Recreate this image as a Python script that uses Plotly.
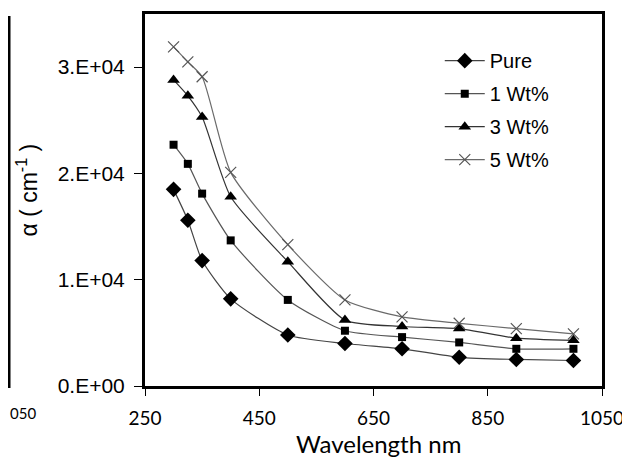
import plotly.graph_objects as go

wavelength = [300, 325, 350, 400, 500, 600, 700, 800, 900, 1000]
pure = [18500, 15600, 11800, 8200, 4800, 4000, 3500, 2700, 2500, 2400]
wt1 = [22700, 20900, 18100, 13700, 8100, 5200, 4600, 4100, 3500, 3500]
wt3 = [28800, 27300, 25300, 17800, 11700, 6200, 5600, 5400, 4500, 4300]
wt5 = [31900, 30500, 29100, 20100, 13300, 8100, 6500, 5900, 5400, 4900]

series_names = ["Pure", "1 Wt%", "3 Wt%", "5 Wt%"]
y_tickvals = [0, 10000, 20000, 30000]
y_ticktext = ["0.E+00", "1.E+04", "2.E+04", "3.E+04"]
x_tickvals = [250, 450, 650, 850, 1050]

# The page body adds an 8px margin, so the figure is 8px smaller
W, H = 622, 451
ML, MR, MT, MB = 137, 28, 3, 73
PW, PH = W - ML - MR, H - MT - MB


def px_x(px):
    return (px - ML) / PW


def px_y(py):
    return (H - MB - py) / PH


fig = go.Figure()
styles = [
    (pure, "diamond", 12, "#000000", "#444444"),
    (wt1, "square", 8, "#000000", "#555555"),
    (wt3, "triangle-up", 11, "#000000", "#333333"),
    (wt5, "x-thin", 11, "#555555", "#6a6a6a"),
]
for i, (name, (vals, sym, sz, mcol, lcol)) in enumerate(zip(series_names, styles)):
    marker = dict(symbol=sym, size=sz, color=mcol)
    if sym == "x-thin":
        marker["line"] = dict(color=mcol, width=1.2)
    fig.add_trace(go.Scatter(
        x=wavelength, y=vals, name=name, mode="lines+markers",
        legendgroup=f"g{i}",
        line=dict(color=lcol, width=1.2, shape="spline", smoothing=0.6),
        marker=marker,
    ))

fig.update_layout(
    width=W, height=H,
    margin=dict(l=ML, r=MR, t=MT, b=MB),
    paper_bgcolor="white", plot_bgcolor="white",
    font=dict(family="Liberation Sans, Arial", size=20, color="#000000"),
    showlegend=True,
    legend=dict(x=0.645, y=0.927, xanchor="left", yanchor="top",
                bgcolor="rgba(0,0,0,0)", font=dict(size=20),
                tracegroupgap=4, itemwidth=40),
)
fig.update_xaxes(
    range=[250, 1050], tickvals=x_tickvals, showgrid=False, zeroline=False,
    showline=True, linecolor="black", linewidth=3, mirror=True,
    ticks="outside", ticklen=7, tickwidth=1, tickcolor="black",
    tickfont=dict(family="Lato", size=19), ticklabelstandoff=6,
)
fig.update_yaxes(
    range=[0, 35000], tickvals=y_tickvals, ticktext=y_ticktext,
    showgrid=False, zeroline=False,
    showline=True, linecolor="black", linewidth=3, mirror=True,
    ticks="outside", ticklen=8, tickwidth=1, tickcolor="black",
    tickfont=dict(size=21), ticklabelstandoff=5,
)

fig.add_annotation(
    text="Wavelength nm", xref="paper", yref="paper",
    x=px_x(370), y=px_y(436), xanchor="center", yanchor="middle",
    showarrow=False, font=dict(family="Lato", size=24),
)
fig.add_annotation(
    text="α ( cm<sup>-1</sup> )", xref="paper", yref="paper",
    x=px_x(19), y=px_y(181), xanchor="center", yanchor="middle",
    textangle=-90, showarrow=False, font=dict(size=23),
)
# remnant of neighbouring chart at the left edge
fig.add_shape(type="line", xref="paper", yref="paper",
              x0=px_x(1), x1=px_x(1), y0=px_y(5), y1=px_y(380),
              line=dict(color="black", width=3))
fig.add_annotation(
    text="050", xref="paper", yref="paper",
    x=px_x(0), y=px_y(405), xanchor="left", yanchor="middle",
    showarrow=False, font=dict(family="Lato", size=15),
)

fig.write_html("out.html")
